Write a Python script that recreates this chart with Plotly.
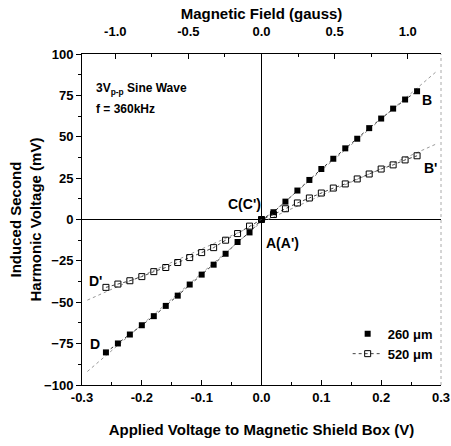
import numpy as np
import plotly.graph_objects as go

# ---- data ----
voltage = [-0.26, -0.24, -0.22, -0.20, -0.18, -0.16, -0.14, -0.12, -0.10, -0.08, -0.06, -0.04, -0.02,
           0.0, 0.02, 0.04, 0.06, 0.08, 0.10, 0.12, 0.14, 0.16, 0.18, 0.20, 0.22, 0.24, 0.26]
v260 = [-80.3, -74.9, -69.5, -63.9, -58.4, -52.2, -46.0, -39.3, -33.3, -27.3, -20.7, -13.6, -7.8,
        0.0, 4.4, 10.8, 17.5, 23.9, 30.5, 36.7, 43.0, 48.8, 55.2, 61.0, 67.0, 72.5, 77.5]
v520 = [-41.0, -39.0, -37.0, -34.5, -31.5, -29.0, -26.0, -23.0, -20.0, -17.0, -12.5, -8.5, -4.0,
        0.0, 3.0, 6.5, 10.0, 13.0, 16.0, 19.0, 21.5, 24.5, 27.5, 30.5, 33.0, 36.0, 38.5]
names = ["260 \u03bcm", "520 \u03bcm"]
x_ticks = [-0.3, -0.2, -0.1, 0.0, 0.1, 0.2, 0.3]
y_ticks = [-100, -75, -50, -25, 0, 25, 50, 75, 100]
field_ticks = [-1.0, -0.5, 0.0, 0.5, 1.0]
x_range = [-0.3, 0.3]
y_range = [-100, 100]
volts_per_gauss = 0.2444
field_range = [x_range[0] / volts_per_gauss, x_range[1] / volts_per_gauss]

FONT = "Liberation Sans, Arial, sans-serif"

fig = go.Figure()

# extended fit lines (faint dotted)
xf = np.array(x_range) * 0.97
for vals in (v260, v520):
    k, b = np.polyfit(voltage, vals, 1)
    fig.add_trace(go.Scatter(x=xf, y=k * xf + b, mode="lines",
                             line=dict(color="#9a9a9a", width=1, dash="dot"),
                             showlegend=False, hoverinfo="skip"))

# 260 um: connecting line + markers
fig.add_trace(go.Scatter(x=voltage, y=v260, mode="lines", showlegend=False,
                         line=dict(color="#333333", width=1, dash="dot")))
fig.add_trace(go.Scatter(x=voltage, y=v260, mode="markers", name=names[0],
                         marker=dict(symbol="square", size=6, color="black")))
# 520 um
fig.add_trace(go.Scatter(x=voltage, y=v520, mode="lines+markers", name=names[1],
                         line=dict(color="#444444", width=1, dash="dot"),
                         marker=dict(symbol="square-open", size=6, color="black",
                                     line=dict(width=1))))

# invisible trace to activate the top axis
fig.add_trace(go.Scatter(x=field_range, y=[0, 0], xaxis="x2", mode="markers",
                         showlegend=False, hoverinfo="skip", marker=dict(opacity=0)))

tickfont = dict(family=FONT, size=13, color="black", weight="bold")
titlefont = dict(family=FONT, size=15, color="black", weight="bold")

fig.update_layout(
    width=451, height=446,
    margin=dict(l=82, r=10, t=54, b=61),
    paper_bgcolor="white", plot_bgcolor="white",
    font=dict(family=FONT, color="black"),
    xaxis=dict(range=x_range, tickvals=x_ticks, ticktext=[f"{t:.1f}" for t in x_ticks],
               ticks="inside", ticklen=5, tickcolor="black", automargin=False,
               ticklabeloverflow="allow",
               minor=dict(ticks="inside", ticklen=3, dtick=0.05, tickcolor="black"),
               showline=True, linecolor="black", linewidth=1,
               showgrid=False, zeroline=True, zerolinecolor="black", zerolinewidth=1,
               tickfont=tickfont,
               title=dict(text="Applied Voltage to Magnetic Shield Box (V)", font=titlefont, standoff=20)),
    xaxis2=dict(range=field_range, overlaying="x", side="top", anchor="y",
                tickvals=field_ticks, ticktext=[f"{t:.1f}" for t in field_ticks],
                ticks="inside", ticklen=5, tickcolor="black", ticklabelstandoff=12,
                automargin=False,
                minor=dict(ticks="inside", ticklen=3, dtick=0.25, tickcolor="black"),
                showline=True, linecolor="black", linewidth=1,
                showgrid=False, zeroline=False, tickfont=tickfont,
                title=dict(text="Magnetic Field (gauss)", font=titlefont, standoff=0)),
    yaxis=dict(range=y_range, tickvals=y_ticks, ticks="outside", ticklen=5, tickcolor="black",
               automargin=False,
               minor=dict(ticks="outside", ticklen=3, dtick=12.5, tickcolor="black"),
               showline=True, linecolor="black", linewidth=1,
               showgrid=False, zeroline=True, zerolinecolor="black", zerolinewidth=1,
               tickfont=tickfont),
    legend=dict(x=0.74, y=0.2, xanchor="left", yanchor="top", bgcolor="rgba(0,0,0,0)",
                font=dict(family=FONT, size=13, color="black", weight="bold"),
                itemwidth=30, tracegroupgap=2),
    showlegend=True,
)

# y-axis title as rotated annotation
fig.add_annotation(x=-0.156, y=0.5, xref="paper", yref="paper", textangle=-90,
                   xanchor="center", yanchor="middle", showarrow=False,
                   text="Induced Second<br>Harmonic Voltage (mV)", font=titlefont)

# right frame line (faint)
fig.add_shape(type="line", xref="paper", yref="paper", x0=1, x1=1, y0=0, y1=1,
              line=dict(color="#aaaaaa", width=1, dash="dot"))

labels = [
    ("B", 0.277, 72),
    ("B'", 0.283, 31),
    ("C(C')", -0.029, 9.5),
    ("A(A')", 0.035, -14),
    ("D'", -0.277, -37),
    ("D", -0.279, -75),
]
for txt, x, y in labels:
    fig.add_annotation(x=x, y=y, text=txt, showarrow=False, xref="x", yref="y",
                       font=dict(family=FONT, size=14, color="black", weight="bold"))

fig.add_annotation(x=-0.28, y=79, xref="x", yref="y", xanchor="left", showarrow=False,
                   text="3V<sub>p-p</sub> Sine Wave",
                   font=dict(family=FONT, size=12, color="black", weight="bold"))
fig.add_annotation(x=-0.28, y=67, xref="x", yref="y", xanchor="left", showarrow=False,
                   text="f = 360kHz",
                   font=dict(family=FONT, size=12, color="black", weight="bold"))

fig.write_html("out.html", config={"displayModeBar": False},
               post_script="document.body.style.margin='0';")
